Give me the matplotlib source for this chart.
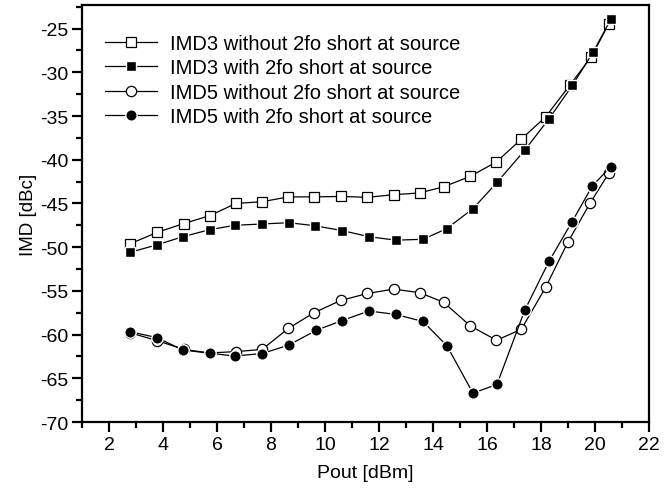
import matplotlib
matplotlib.use("Agg")
import matplotlib.pyplot as plt
from matplotlib.ticker import MultipleLocator

plt.rcParams['font.family'] = ['Liberation Sans', 'DejaVu Sans']
plt.rcParams['axes.unicode_minus'] = False

# IMD3 without 2fo short at source (open squares)
x_imd3_wo = [2.79, 3.79, 4.77, 5.73, 6.7, 7.68, 8.64, 9.58, 10.6, 11.57, 12.54, 13.5,
             14.39, 15.38, 16.35, 17.27, 18.17, 19.06, 19.87, 20.5]
y_imd3_wo = [-49.6, -48.3, -47.3, -46.4, -45.0, -44.8, -44.25, -44.25, -44.2, -44.3, -44.0, -43.8,
             -43.1, -41.9, -40.25, -37.65, -35.1, -31.5, -28.2, -24.5]

# IMD3 with 2fo short at source (filled squares)
x_imd3_w = [2.77, 3.76, 4.74, 5.73, 6.66, 7.67, 8.66, 9.62, 10.63, 11.63, 12.62, 13.63,
            14.5, 15.48, 16.37, 17.4, 18.3, 19.16, 19.93, 20.6]
y_imd3_w = [-50.6, -49.75, -48.8, -48.0, -47.5, -47.35, -47.2, -47.55, -48.1, -48.8, -49.2, -49.1,
            -47.9, -45.6, -42.6, -38.9, -35.3, -31.5, -27.7, -23.85]

# IMD5 without 2fo short at source (open circles)
x_imd5_wo = [2.79, 3.79, 4.77, 5.73, 6.7, 7.67, 8.64, 9.59, 10.58, 11.57, 12.54, 13.5,
             14.39, 15.38, 16.35, 17.27, 18.17, 19.0, 19.83, 20.52]
y_imd5_wo = [-59.8, -60.7, -61.7, -62.1, -61.95, -61.7, -59.3, -57.5, -56.1, -55.3, -54.8, -55.2,
             -56.3, -59.0, -60.65, -59.4, -54.6, -49.4, -44.9, -41.5]

# IMD5 with 2fo short at source (filled circles)
x_imd5_w = [2.77, 3.76, 4.74, 5.73, 6.66, 7.67, 8.66, 9.68, 10.63, 11.63, 12.62, 13.63,
            14.52, 15.48, 16.37, 17.4, 18.3, 19.15, 19.9, 20.58]
y_imd5_w = [-59.66, -60.34, -61.76, -62.14, -62.45, -62.17, -61.2, -59.5, -58.4, -57.3, -57.7, -58.5,
            -61.3, -66.7, -65.7, -57.2, -51.6, -47.1, -43.0, -40.8]

labels = ["IMD3 without 2fo short at source",
          "IMD3 with 2fo short at source",
          "IMD5 without 2fo short at source",
          "IMD5 with 2fo short at source"]

fig = plt.figure(figsize=(6.66, 4.89), dpi=100)
ax = fig.add_axes([82/666, 1-423/489, (649-82)/666, (423-6)/489])

lw = 0.9
ax.plot(x_imd3_wo, y_imd3_wo, color='black', lw=lw, marker='s', ms=6.6,
        mfc='white', mec='black', mew=0.9, label=labels[0])
ax.plot(x_imd3_w, y_imd3_w, color='black', lw=lw, marker='s', ms=7.4,
        mfc='black', mec='white', mew=1.0, label=labels[1])
ax.plot(x_imd5_wo, y_imd5_wo, color='black', lw=lw, marker='o', ms=7.4,
        mfc='white', mec='black', mew=0.9, label=labels[2])
ax.plot(x_imd5_w, y_imd5_w, color='black', lw=lw, marker='o', ms=8.2,
        mfc='black', mec='white', mew=1.0, label=labels[3])

ax.set_xlim(1, 22)
ax.set_ylim(-70, -22.3)
ax.xaxis.set_major_locator(MultipleLocator(2))
ax.xaxis.set_minor_locator(MultipleLocator(1))
ax.yaxis.set_major_locator(MultipleLocator(5))
ax.yaxis.set_minor_locator(MultipleLocator(2.5))
ax.set_xticks(range(2, 23, 2))
ax.set_xticklabels([str(v) for v in range(2, 23, 2)])
ax.set_yticks(range(-70, -24, 5))
ax.set_yticklabels([str(v) for v in range(-70, -24, 5)])

for s in ax.spines.values():
    s.set_linewidth(1.6)
ax.tick_params(which='major', direction='out', length=7.5, width=1.6, labelsize=14, pad=2.5,
               top=False, right=False)
ax.tick_params(which='minor', direction='out', length=4, width=1.6, top=False, right=False)

ax.set_xlabel("Pout [dBm]", fontsize=14, labelpad=8)
ax.set_ylabel("IMD [dBc]", fontsize=13.5, labelpad=2)

leg = ax.legend(loc='upper left', bbox_to_anchor=(0.04, 0.93), frameon=False,
                fontsize=14.5, handlelength=2.6, handletextpad=0.65, labelspacing=0.26,
                borderaxespad=0.0, borderpad=0.0)

fig.savefig("out.png", dpi=100)
